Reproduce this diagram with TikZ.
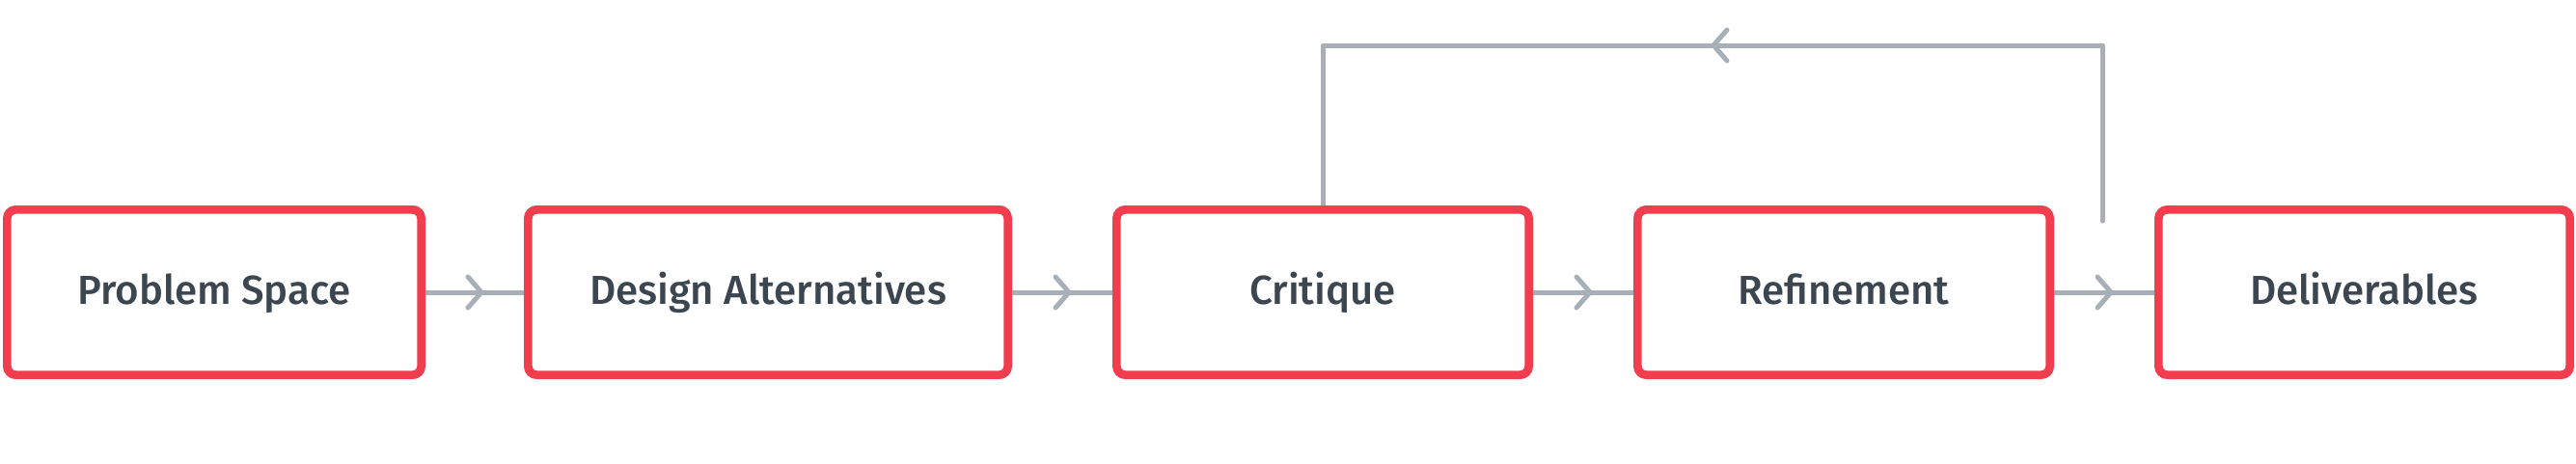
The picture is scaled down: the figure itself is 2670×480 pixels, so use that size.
\documentclass[tikz,border=0pt]{standalone}
\usepackage{fontspec}
\setmainfont{Fira Sans Medium}
\usetikzlibrary{decorations.markings,backgrounds}
\definecolor{boxred}{HTML}{F03E4F}
\definecolor{txtgray}{HTML}{3C4650}
\definecolor{lineg}{HTML}{A7AFB9}
\tikzset{
  stage/.style={draw=boxred, line width=8.7pt, rounded corners=9pt, fill=white,
    minimum height=171.3pt, inner sep=0pt, text=txtgray,
    font=\fontsize{42}{50}\selectfont, text height=24pt, text depth=0pt},
  link/.style={draw=lineg, line width=5pt, line join=round},
  midarrow/.style={postaction={decorate}, decoration={markings,
    mark=at position 0.5 with {\draw[draw=lineg, line width=5pt, line cap=round, line join=round]
      (-7pt,-16pt) -- (7pt,0pt) -- (-7pt,16pt);}}}
}
\begin{document}
\begin{tikzpicture}[x=1pt,y=-1pt]
\useasboundingbox (0,0) rectangle (2670,480);
\node[stage, minimum width=429.3pt] (p) at (222,303) {Problem Space};
\node[stage, minimum width=497.3pt] (a) at (796,303) {Design Alternatives};
\node[stage, minimum width=427.3pt] (c) at (1371,303) {Critique};
\node[stage, minimum width=427.3pt] (r) at (1911,303) {Refinement};
\node[stage, minimum width=426.3pt] (d) at (2450.5,303) {Deliverables};
\coordinate (fb) at (2179,229);
\coordinate (fbtop) at (2179,47);
\begin{pgfonlayer}{background}
\draw[link, midarrow] (p.east) -- (a.west);
\draw[link, midarrow] (a.east) -- (c.west);
\draw[link, midarrow] (c.east) -- (r.west);
\draw[link, midarrow] (r.east) -- (d.west);
\draw[link, line cap=round, midarrow] (fb) -- (fbtop) -| (c.north);
\end{pgfonlayer}
\end{tikzpicture}
\end{document}
